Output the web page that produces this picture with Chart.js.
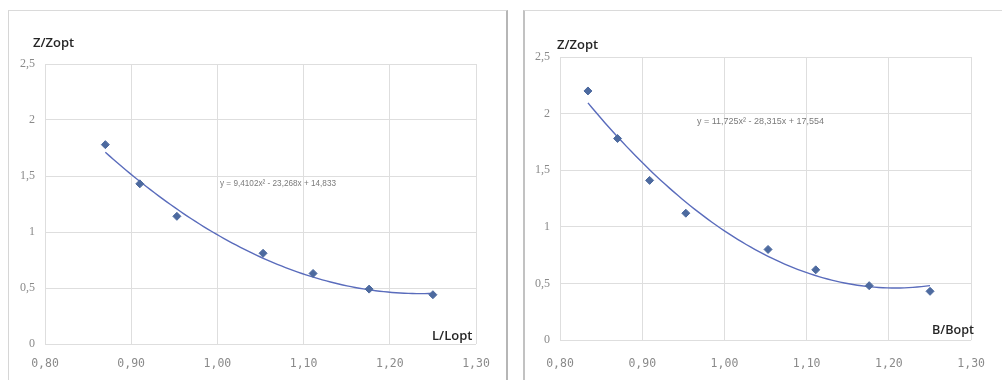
<!DOCTYPE html>
<html>
<head>
<meta charset="utf-8">
<script src="https://cdn.jsdelivr.net/npm/chart.js@4/dist/chart.umd.min.js"></script>
<style>
  html, body { margin: 0; padding: 0; background: #ffffff; }
  body { width: 1002px; height: 380px; position: relative; overflow: hidden; }
  .panel { position: absolute; top: 10px; height: 380px; box-sizing: border-box; background: #fff; }
  #panelL { left: 8px; width: 500px; border-left: 1px solid #d6d6d6; border-top: 1px solid #dadada; border-right: 2px solid #b6b6b6; }
  #panelR { left: 523px; width: 479px; border-left: 2px solid #c2c2c2; border-top: 1px solid #dadada; }
  canvas { position: absolute; left: 0; top: 0; }
</style>
</head>
<body>
<div class="panel" id="panelL"><canvas id="chartL" width="497" height="369"></canvas></div>
<div class="panel" id="panelR"><canvas id="chartR" width="477" height="369"></canvas></div>
<script>
// Axis ticks shared by both charts
const xTickValues = [0.8, 0.9, 1.0, 1.1, 1.2, 1.3];
const xTickLabels = ['0,80', '0,90', '1,00', '1,10', '1,20', '1,30'];
const yTickValues = [0, 0.5, 1, 1.5, 2, 2.5];
const yTickLabels = ['0', '0,5', '1', '1,5', '2', '2,5'];

// Z/Zopt against L/Lopt
const ratioL = [0.870, 0.910, 0.953, 1.053, 1.111, 1.176, 1.250];
const zoptL  = [1.78, 1.43, 1.14, 0.81, 0.63, 0.49, 0.44];
// quadratic trend: a·x² + b·x + c
const trendL = [9.4102, -23.268, 14.833];
const trendLabelL = 'y = 9,4102x² - 23,268x + 14,833';

// Z/Zopt against B/Bopt
const ratioB = [0.834, 0.870, 0.909, 0.953, 1.053, 1.111, 1.176, 1.250];
const zoptB  = [2.20, 1.78, 1.41, 1.12, 0.80, 0.62, 0.48, 0.43];
const trendB = [11.725, -28.315, 17.554];
const trendLabelB = 'y = 11,725x² - 28,315x + 17,554';

function pairs(xs, ys) {
  return xs.map((x, i) => ({ x: x, y: ys[i] }));
}

// Sample the stated polynomial across the measured range
function trendCurve(coef, xs, steps) {
  const lo = Math.min(...xs), hi = Math.max(...xs);
  const pts = [];
  for (let i = 0; i <= steps; i++) {
    const x = lo + (hi - lo) * i / steps;
    pts.push({ x: x, y: coef[0] * x * x + coef[1] * x + coef[2] });
  }
  return pts;
}

function tickText(values, labels) {
  return function (value) {
    const i = values.findIndex(v => Math.abs(v - value) < 1e-6);
    return i >= 0 ? labels[i] : '';
  };
}

// Axis titles and the trend equation
const textPlugin = {
  id: 'panelText',
  afterDraw(chart, args, opts) {
    const ctx = chart.ctx;
    ctx.save();
    ctx.textBaseline = 'middle';
    ctx.textAlign = 'left';
    ctx.fillStyle = '#262626';
    ctx.font = '600 13px "Open Sans", "Noto Sans", sans-serif';
    ctx.fillText(opts.yTitle, opts.yTitleX, opts.yTitleY, opts.titleWidth);
    ctx.fillText(opts.xTitle, opts.xTitleX, opts.xTitleY, opts.titleWidth);
    ctx.fillStyle = '#7a7a7a';
    ctx.font = '9px "Liberation Sans", Arial, sans-serif';
    ctx.fillText(opts.equation, opts.eqX, opts.eqY, opts.eqWidth);
    ctx.restore();
  }
};

function makeChart(id, xs, ys, coef, layout, text) {
  return new Chart(document.getElementById(id), {
    type: 'scatter',
    data: {
      datasets: [
        {
          type: 'line',
          data: trendCurve(coef, xs, 80),
          borderColor: '#5a6cbc',
          borderWidth: 1.4,
          pointRadius: 0,
          fill: false,
          tension: 0,
          order: 2
        },
        {
          data: pairs(xs, ys),
          pointStyle: 'rectRot',
          pointRadius: 4,
          backgroundColor: '#4d6a9f',
          borderColor: '#4d6a9f',
          borderWidth: 1,
          order: 1
        }
      ]
    },
    options: {
      responsive: false,
      animation: false,
      layout: { padding: { left: 0, top: layout.top, right: layout.right, bottom: 0 } },
      plugins: {
        legend: { display: false },
        tooltip: { enabled: false },
        panelText: text
      },
      scales: {
        x: {
          type: 'linear',
          min: 0.8,
          max: 1.3,
          ticks: {
            stepSize: 0.1,
            autoSkip: false,
            maxRotation: 0,
            padding: layout.xPad,
            color: '#8a8a8a',
            font: { family: '"DejaVu Sans Mono", monospace', size: 11.5 },
            callback: tickText(xTickValues, xTickLabels)
          },
          grid: { color: '#dedede', lineWidth: 1, drawTicks: false },
          border: { display: false },
          afterFit(s) { s.height = layout.xHeight; }
        },
        y: {
          min: 0,
          max: 2.5,
          ticks: {
            stepSize: 0.5,
            padding: 10,
            color: '#8a8a8a',
            font: { family: '"Liberation Serif", serif', size: 12 },
            callback: tickText(yTickValues, yTickLabels)
          },
          grid: { color: '#dedede', lineWidth: 1, drawTicks: false },
          border: { display: false },
          afterFit(s) { s.width = layout.yWidth; }
        }
      }
    },
    plugins: [textPlugin]
  });
}

makeChart('chartL', ratioL, zoptL, trendL,
  { top: 53, right: 30, xHeight: 36, yWidth: 36, xPad: 13 },
  { yTitle: 'Z/Zopt', yTitleX: 24, yTitleY: 32, titleWidth: 44,
    xTitle: 'L/Lopt', xTitleX: 423, xTitleY: 325,
    equation: trendLabelL, eqX: 211, eqY: 173, eqWidth: 116 });

makeChart('chartR', ratioB, zoptB, trendB,
  { top: 46, right: 24, xHeight: 40, yWidth: 35, xPad: 17 },
  { yTitle: 'Z/Zopt', yTitleX: 32, yTitleY: 34, titleWidth: 42,
    xTitle: 'B/Bopt', xTitleX: 407, xTitleY: 319,
    equation: trendLabelB, eqX: 172, eqY: 111, eqWidth: 140 });
</script>
</body>
</html>
